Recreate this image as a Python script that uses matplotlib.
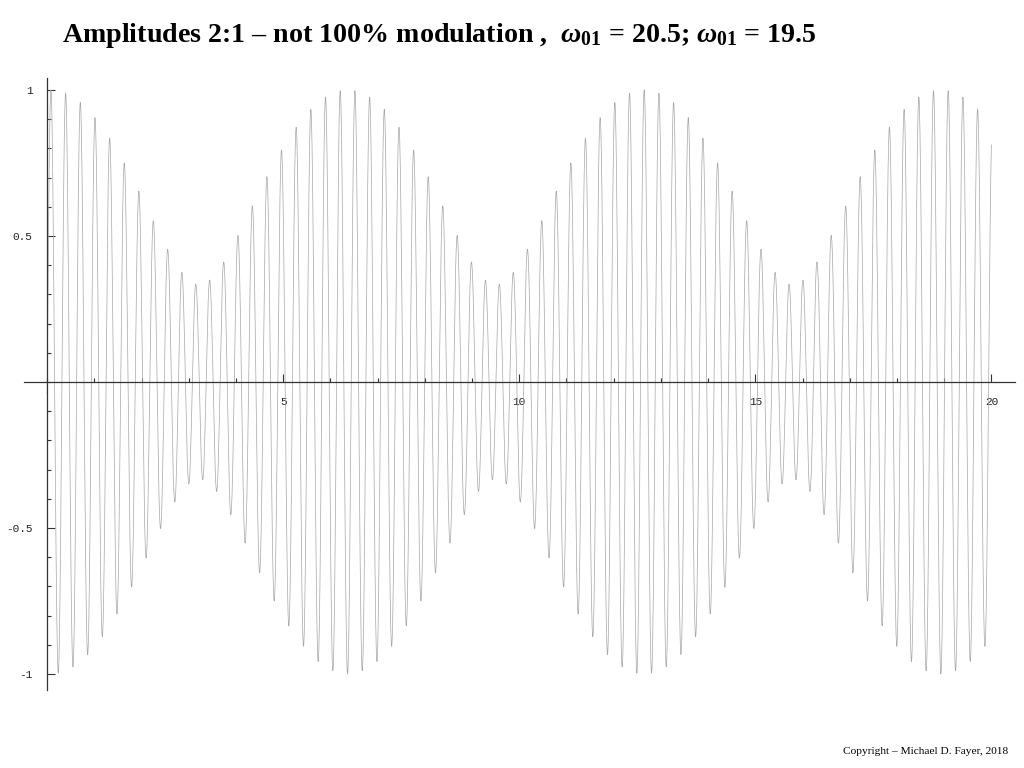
import numpy as np
import matplotlib.pyplot as plt
from matplotlib.ticker import MultipleLocator, FixedLocator

# beat signal: two cosines, amplitudes 2:1, frequencies from the title
amplitudes = [2 / 3, 1 / 3]
omegas = [20.5, 19.5]
t_range = [0, 20]
t_offset = 0.08   # carrier peaks sit slightly right of the tick marks in the original
x_major = [5, 10, 15, 20]
y_major = [-1, -0.5, 0.5, 1]
y_labels = ["-1", "-0.5", "0.5", "1"]

plt.rcParams['mathtext.fontset'] = 'custom'
plt.rcParams['mathtext.rm'] = 'Liberation Serif:bold'
plt.rcParams['mathtext.it'] = 'Liberation Serif:italic:bold'

t = np.linspace(t_range[0], t_range[1], 8000)
y = sum(a * np.cos(w * (t - t_offset)) for a, w in zip(amplitudes, omegas))

fig = plt.figure(figsize=(10.24, 7.68), dpi=100)
ax = fig.add_axes([24 / 1024, 78 / 768, 991 / 1024, 612 / 768])
ax.plot(t, y, color='#a6a6a6', lw=0.5)

ax.set_xlim(-0.49, 20.5)
ax.set_ylim(-1.055, 1.041)

for s in ['top', 'right']:
    ax.spines[s].set_visible(False)
ax.spines['left'].set_position(('data', 0))
ax.spines['bottom'].set_position(('data', 0))
for s in ['left', 'bottom']:
    ax.spines[s].set_linewidth(0.9)
    ax.spines[s].set_color('#333333')

ax.xaxis.set_major_locator(FixedLocator(x_major))
ax.xaxis.set_minor_locator(MultipleLocator(1))
ax.yaxis.set_major_locator(FixedLocator(y_major))
ax.set_yticklabels(y_labels)
ax.yaxis.set_minor_locator(MultipleLocator(0.1))

ax.tick_params(which='both', direction='in', color='#333333', width=0.8,
               labelsize=8, labelcolor='#222222')
ax.tick_params(which='major', length=6)
ax.tick_params(which='minor', length=3)
ax.tick_params(axis='x', which='major', pad=10.5)
ax.tick_params(axis='y', which='major', pad=10.5)
for lab in ax.get_xticklabels() + ax.get_yticklabels():
    lab.set_family('Liberation Mono')

fig.text(62 / 1024, 1 - 36 / 768,
         r"Amplitudes 2:1 – not 100% modulation ,  $\omega_{01}$ = 20.5; $\omega_{01}$ = 19.5",
         family='Liberation Serif', weight='bold', fontsize=20.2, va='center', ha='left')
fig.text(1008 / 1024, 1 - 751 / 768, "Copyright – Michael D. Fayer, 2018",
         family='Liberation Serif', fontsize=8.2, va='center', ha='right')

fig.savefig('out.png', dpi=100)
